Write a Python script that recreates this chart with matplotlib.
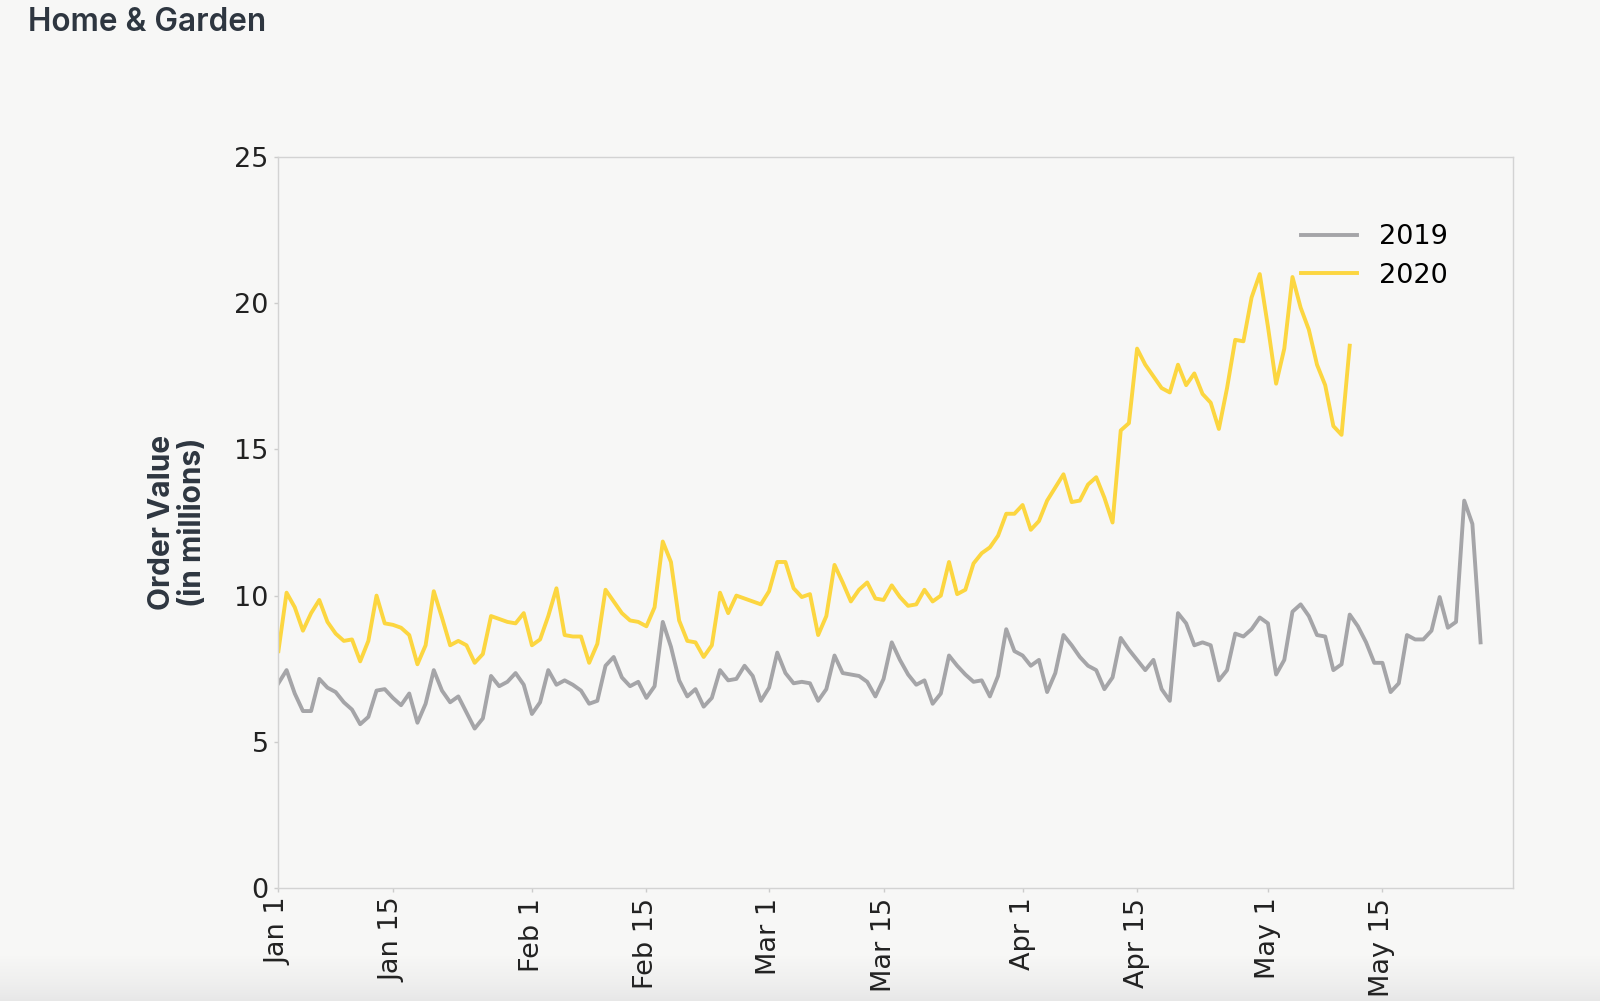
import numpy as np
import pandas as pd
import matplotlib
matplotlib.use("Agg")
import matplotlib.pyplot as plt
import matplotlib.dates as mdates

# daily order value (millions), day 0 = Jan 1
orders_2019 = [
    7.0, 7.45, 6.65, 6.05, 6.05, 7.15, 6.85, 6.7, 6.35, 6.1,
    5.6, 5.85, 6.75, 6.8, 6.5, 6.25, 6.65, 5.65, 6.3, 7.45,
    6.75, 6.35, 6.55, 6.0, 5.45, 5.8, 7.25, 6.9, 7.05, 7.35,
    6.95, 5.95, 6.35, 7.45, 6.95, 7.1, 6.95, 6.75, 6.3, 6.4,
    7.6, 7.9, 7.2, 6.9, 7.05, 6.5, 6.9, 9.1, 8.25, 7.1,
    6.55, 6.8, 6.2, 6.5, 7.45, 7.1, 7.15, 7.6, 7.25, 6.4,
    6.85, 8.05, 7.35, 7.0, 7.05, 7.0, 6.4, 6.8, 7.95, 7.35,
    7.3, 7.25, 7.05, 6.55, 7.15, 8.4, 7.8, 7.3, 6.95, 7.1,
    6.3, 6.65, 7.95, 7.6, 7.3, 7.05, 7.1, 6.55, 7.25, 8.85,
    8.1, 7.95, 7.6, 7.8, 6.7, 7.35, 8.65, 8.3, 7.9, 7.6,
    7.45, 6.8, 7.2, 8.55, 8.15, 7.8, 7.45, 7.8, 6.8, 6.4,
    9.4, 9.05, 8.3, 8.4, 8.3, 7.1, 7.45, 8.7, 8.6, 8.85,
    9.25, 9.05, 7.3, 7.8, 9.45, 9.7, 9.3, 8.65, 8.6, 7.45,
    7.65, 9.35, 8.95, 8.4, 7.7, 7.7, 6.7, 7.0, 8.65, 8.5,
    8.5, 8.8, 9.95, 8.9, 9.1, 13.25, 12.45, 8.4,
]

orders_2020 = [
    8.1, 10.1, 9.6, 8.8, 9.4, 9.85, 9.1, 8.7, 8.45, 8.5,
    7.75, 8.45, 10.0, 9.05, 9.0, 8.9, 8.65, 7.65, 8.3, 10.15,
    9.25, 8.3, 8.45, 8.3, 7.7, 8.0, 9.3, 9.2, 9.1, 9.05,
    9.4, 8.3, 8.5, 9.3, 10.25, 8.65, 8.6, 8.6, 7.7, 8.35,
    10.2, 9.8, 9.4, 9.15, 9.1, 8.95, 9.6, 11.85, 11.15, 9.15,
    8.45, 8.4, 7.9, 8.3, 10.1, 9.4, 10.0, 9.9, 9.8, 9.7,
    10.15, 11.15, 11.15, 10.25, 9.95, 10.05, 8.65, 9.3, 11.05, 10.45,
    9.8, 10.2, 10.45, 9.9, 9.85, 10.35, 9.95, 9.65, 9.7, 10.2,
    9.8, 10.0, 11.15, 10.05, 10.2, 11.1, 11.45, 11.65, 12.05, 12.8,
    12.8, 13.1, 12.25, 12.55, 13.25, 13.7, 14.15, 13.2, 13.25, 13.8,
    14.05, 13.35, 12.5, 15.65, 15.9, 18.45, 17.9, 17.5, 17.1, 16.95,
    17.9, 17.2, 17.6, 16.9, 16.6, 15.7, 17.1, 18.75, 18.7, 20.2,
    21.0, 19.2, 17.25, 18.45, 20.9, 19.85, 19.1, 17.9, 17.2, 15.8,
    15.5, 18.55,
]

tick_dates = ["2020-01-01", "2020-01-15", "2020-02-01", "2020-02-15",
              "2020-03-01", "2020-03-15", "2020-04-01", "2020-04-15",
              "2020-05-01", "2020-05-15"]
y_ticks = [0, 5, 10, 15, 20, 25]

bg = "#f7f7f6"
text_dark = "#2e3640"
gray = "#a5a5a8"
yellow = "#fcd640"

days_2019 = pd.date_range("2020-01-01", periods=len(orders_2019), freq="D")
days_2020 = pd.date_range("2020-01-01", periods=len(orders_2020), freq="D")

fig = plt.figure(figsize=(16, 10.01), dpi=100, facecolor=bg)

# faint shadow along the bottom edge of the screenshot
band = fig.add_axes([0, 0, 1, 0.045], zorder=-5)
grad = np.linspace(0, 1, 80).reshape(-1, 1) ** 0.8
band.imshow(grad, aspect="auto", origin="lower", extent=[0, 1, 0, 1],
            cmap=matplotlib.colors.LinearSegmentedColormap.from_list("band", ["#e7e7e7", bg]))
band.set_axis_off()

ax = fig.add_axes([0.174, 0.113, 0.7718, 0.730])
ax.set_facecolor(bg)

ax.plot(days_2019, orders_2019, color=gray, lw=2.8, label="2019")
ax.plot(days_2020, orders_2020, color=yellow, lw=2.8, label="2020")

ax.set_xlim(pd.Timestamp("2020-01-01"), pd.Timestamp("2020-05-31"))
ax.set_ylim(0, 25)
ax.set_yticks(y_ticks)
ax.set_xticks(pd.to_datetime(tick_dates))
ax.xaxis.set_major_formatter(mdates.DateFormatter("%b %-d"))

for s in ax.spines.values():
    s.set_color("#d3d3d3")
    s.set_linewidth(1.0)

ax.tick_params(axis="both", labelsize=19.5, colors="#cccccc", labelcolor="#222222",
               length=3, width=1, pad=4)
ax.tick_params(axis="x", labelrotation=90)

ax.set_ylabel("Order Value\n(in millions)", fontsize=21.5, fontweight="bold",
              family=["Inter", "DejaVu Sans"], color=text_dark, labelpad=20,
              linespacing=1.1)

ax.legend(loc="center left", bbox_to_anchor=(0.808, 0.864), frameon=False,
          fontsize=19.5, handlelength=2.1, handletextpad=0.8, labelspacing=0.45)

fig.text(0.0172, 0.969, "Home & Garden", fontsize=22.7, fontweight="semibold",
         family=["Inter", "DejaVu Sans"], color=text_dark, va="baseline", ha="left")

fig.savefig("out.png", dpi=100, facecolor=bg)
